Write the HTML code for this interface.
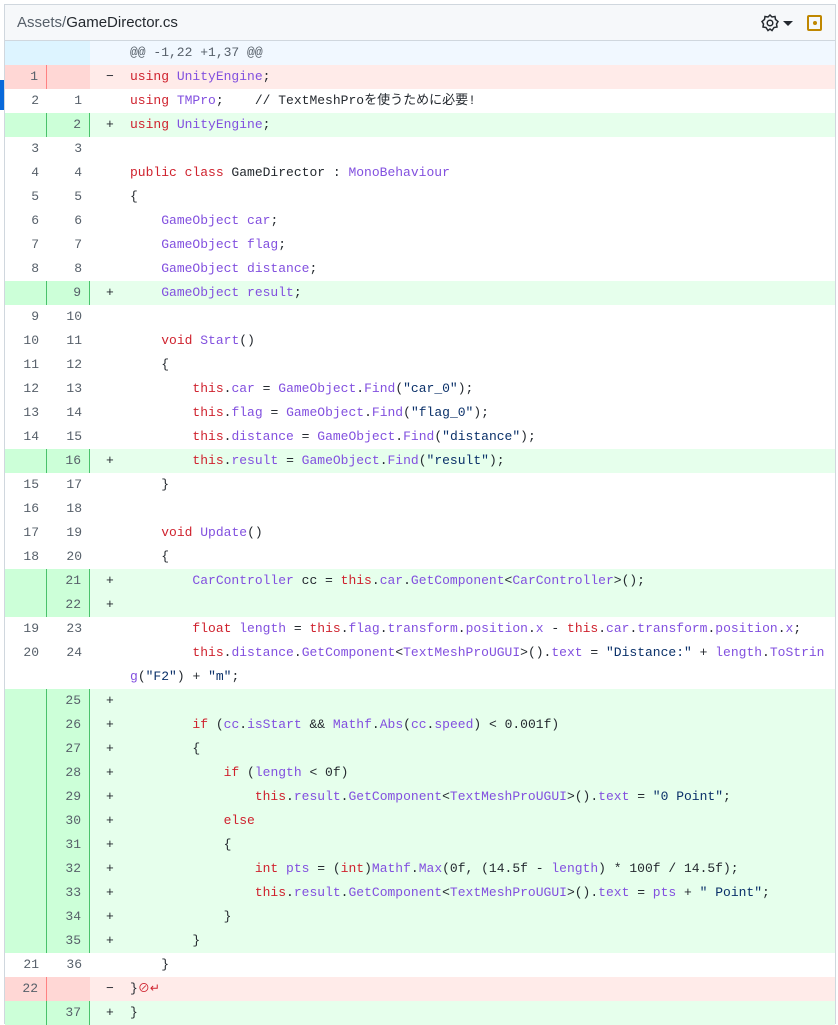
<!DOCTYPE html>
<html><head><meta charset="utf-8"><style>
*{margin:0;padding:0;box-sizing:border-box}
body{width:838px;height:1024px;background:#fff;position:relative;overflow:hidden;font-family:"Liberation Mono","Noto Sans CJK JP",monospace;color:#24292f}
#box{position:absolute;left:4px;top:4px;width:832px;height:1020px;border:1px solid #d0d7de;border-bottom:none}
#hdr{height:36px;background:#f6f8fa;border-bottom:1px solid #d0d7de;font-family:"Liberation Sans",sans-serif;font-size:15px;line-height:35px;padding-left:12px;color:#24292f;position:relative}
#hdr .g{color:#57606a}
.r{display:flex;height:24px;font-size:13px;line-height:24px;white-space:pre}
.r.w{height:48px}
.n{width:42px;text-align:right;padding-right:8px;color:#57606a;flex:none}
.m{width:43px;text-align:right;padding-right:8px;color:#57606a;flex:none}
.c{flex:1;padding-left:16px}
.sg{display:inline-block;width:24px}
.h .n,.h .m{background:#ddf4ff}.h .c{background:#f1f8ff;color:#57606a}
.d .n,.d .m{background:#ffd7d5}.d .c{background:#ffebe9}
.a .n,.a .m{background:#ccffd8}.a .c{background:#e6ffec}
.a .n{border-right:1px solid #4ac26b}.a .m{border-right:1px solid #4ac26b}
.d .n{border-right:1px solid #ff8182}
.k{color:#cf222e}.p{color:#8250df}.s{color:#0a3069}
</style></head><body>
<div style="position:absolute;left:0;top:80px;width:4px;height:30px;background:#0969da"></div>
<div id="box">
<div id="hdr"><span class="g">Assets/</span>GameDirector.cs
<svg style="position:absolute;left:755px;top:8px" width="20" height="20" viewBox="0 0 20 20"><path d="M10 2 L12 4 L15 3.5 L15.5 6.5 L18 8.5 L16.5 11 L17 14 L14 14.5 L12 17.5 L10 16 L8 17.5 L6 14.5 L3 14 L3.5 11 L2 8.5 L4.5 6.5 L5 3.5 L8 4 Z" fill="none" stroke="#24292f" stroke-width="1.5"/><circle cx="10" cy="10" r="2.8" fill="none" stroke="#24292f" stroke-width="1.5"/></svg>
<svg style="position:absolute;left:778px;top:16px" width="10" height="6"><path d="M0 0 L10 0 L5 5Z" fill="#24292f"/></svg>
<div style="position:absolute;left:802px;top:10px;width:15px;height:16px;border:2px solid #bf8700;border-radius:2px"><div style="position:absolute;left:3.5px;top:4px;width:4px;height:4px;border-radius:2px;background:#bf8700"></div></div>
</div>
<div class="r h"><div class="n"></div><div class="m"></div><div class="c"><span class="sg"></span>@@ -1,22 +1,37 @@</div></div>
<div class="r d"><div class="n">1</div><div class="m"></div><div class="c"><span class="sg">−</span><span class="k">using</span> <span class="p">UnityEngine</span>;</div></div>
<div class="r"><div class="n">2</div><div class="m">1</div><div class="c"><span class="sg"></span><span class="k">using</span> <span class="p">TMPro</span>;    // TextMeshProを使うために必要!</div></div>
<div class="r a"><div class="n"></div><div class="m">2</div><div class="c"><span class="sg">+</span><span class="k">using</span> <span class="p">UnityEngine</span>;</div></div>
<div class="r"><div class="n">3</div><div class="m">3</div><div class="c"></div></div>
<div class="r"><div class="n">4</div><div class="m">4</div><div class="c"><span class="sg"></span><span class="k">public class</span> GameDirector : <span class="p">MonoBehaviour</span></div></div>
<div class="r"><div class="n">5</div><div class="m">5</div><div class="c"><span class="sg"></span>{</div></div>
<div class="r"><div class="n">6</div><div class="m">6</div><div class="c"><span class="sg"></span>    <span class="p">GameObject car</span>;</div></div>
<div class="r"><div class="n">7</div><div class="m">7</div><div class="c"><span class="sg"></span>    <span class="p">GameObject flag</span>;</div></div>
<div class="r"><div class="n">8</div><div class="m">8</div><div class="c"><span class="sg"></span>    <span class="p">GameObject distance</span>;</div></div>
<div class="r a"><div class="n"></div><div class="m">9</div><div class="c"><span class="sg">+</span>    <span class="p">GameObject result</span>;</div></div>
<div class="r"><div class="n">9</div><div class="m">10</div><div class="c"></div></div>
<div class="r"><div class="n">10</div><div class="m">11</div><div class="c"><span class="sg"></span>    <span class="k">void</span> <span class="p">Start</span>()</div></div>
<div class="r"><div class="n">11</div><div class="m">12</div><div class="c"><span class="sg"></span>    {</div></div>
<div class="r"><div class="n">12</div><div class="m">13</div><div class="c"><span class="sg"></span>        <span class="k">this</span>.<span class="p">car</span> = <span class="p">GameObject</span>.<span class="p">Find</span>(<span class="s">"car_0"</span>);</div></div>
<div class="r"><div class="n">13</div><div class="m">14</div><div class="c"><span class="sg"></span>        <span class="k">this</span>.<span class="p">flag</span> = <span class="p">GameObject</span>.<span class="p">Find</span>(<span class="s">"flag_0"</span>);</div></div>
<div class="r"><div class="n">14</div><div class="m">15</div><div class="c"><span class="sg"></span>        <span class="k">this</span>.<span class="p">distance</span> = <span class="p">GameObject</span>.<span class="p">Find</span>(<span class="s">"distance"</span>);</div></div>
<div class="r a"><div class="n"></div><div class="m">16</div><div class="c"><span class="sg">+</span>        <span class="k">this</span>.<span class="p">result</span> = <span class="p">GameObject</span>.<span class="p">Find</span>(<span class="s">"result"</span>);</div></div>
<div class="r"><div class="n">15</div><div class="m">17</div><div class="c"><span class="sg"></span>    }</div></div>
<div class="r"><div class="n">16</div><div class="m">18</div><div class="c"></div></div>
<div class="r"><div class="n">17</div><div class="m">19</div><div class="c"><span class="sg"></span>    <span class="k">void</span> <span class="p">Update</span>()</div></div>
<div class="r"><div class="n">18</div><div class="m">20</div><div class="c"><span class="sg"></span>    {</div></div>
<div class="r a"><div class="n"></div><div class="m">21</div><div class="c"><span class="sg">+</span>        <span class="p">CarController</span> cc = <span class="k">this</span>.<span class="p">car</span>.<span class="p">GetComponent</span>&lt;<span class="p">CarController</span>&gt;();</div></div>
<div class="r a"><div class="n"></div><div class="m">22</div><div class="c"><span class="sg">+</span></div></div>
<div class="r"><div class="n">19</div><div class="m">23</div><div class="c"><span class="sg"></span>        <span class="k">float</span> <span class="p">length</span> = <span class="k">this</span>.<span class="p">flag</span>.<span class="p">transform</span>.<span class="p">position</span>.<span class="p">x</span> - <span class="k">this</span>.<span class="p">car</span>.<span class="p">transform</span>.<span class="p">position</span>.<span class="p">x</span>;</div></div>
<div class="r w"><div class="n">20</div><div class="m">24</div><div class="c"><span class="sg"></span>        <span class="k">this</span>.<span class="p">distance</span>.<span class="p">GetComponent</span>&lt;<span class="p">TextMeshProUGUI</span>&gt;().<span class="p">text</span> = <span class="s">"Distance:"</span> + <span class="p">length</span>.<span class="p">ToStrin</span>
<span class="sg"></span><span class="p">g</span>(<span class="s">"F2"</span>) + <span class="s">"m"</span>;</div></div>
<div class="r a"><div class="n"></div><div class="m">25</div><div class="c"><span class="sg">+</span></div></div>
<div class="r a"><div class="n"></div><div class="m">26</div><div class="c"><span class="sg">+</span>        <span class="k">if</span> (<span class="p">cc</span>.<span class="p">isStart</span> &amp;&amp; <span class="p">Mathf</span>.<span class="p">Abs</span>(<span class="p">cc</span>.<span class="p">speed</span>) &lt; 0.001f)</div></div>
<div class="r a"><div class="n"></div><div class="m">27</div><div class="c"><span class="sg">+</span>        {</div></div>
<div class="r a"><div class="n"></div><div class="m">28</div><div class="c"><span class="sg">+</span>            <span class="k">if</span> (<span class="p">length</span> &lt; 0f)</div></div>
<div class="r a"><div class="n"></div><div class="m">29</div><div class="c"><span class="sg">+</span>                <span class="k">this</span>.<span class="p">result</span>.<span class="p">GetComponent</span>&lt;<span class="p">TextMeshProUGUI</span>&gt;().<span class="p">text</span> = <span class="s">"0 Point"</span>;</div></div>
<div class="r a"><div class="n"></div><div class="m">30</div><div class="c"><span class="sg">+</span>            <span class="k">else</span></div></div>
<div class="r a"><div class="n"></div><div class="m">31</div><div class="c"><span class="sg">+</span>            {</div></div>
<div class="r a"><div class="n"></div><div class="m">32</div><div class="c"><span class="sg">+</span>                <span class="k">int</span> <span class="p">pts</span> = (<span class="k">int</span>)<span class="p">Mathf</span>.<span class="p">Max</span>(0f, (14.5f - <span class="p">length</span>) * 100f / 14.5f);</div></div>
<div class="r a"><div class="n"></div><div class="m">33</div><div class="c"><span class="sg">+</span>                <span class="k">this</span>.<span class="p">result</span>.<span class="p">GetComponent</span>&lt;<span class="p">TextMeshProUGUI</span>&gt;().<span class="p">text</span> = <span class="p">pts</span> + <span class="s">" Point"</span>;</div></div>
<div class="r a"><div class="n"></div><div class="m">34</div><div class="c"><span class="sg">+</span>            }</div></div>
<div class="r a"><div class="n"></div><div class="m">35</div><div class="c"><span class="sg">+</span>        }</div></div>
<div class="r"><div class="n">21</div><div class="m">36</div><div class="c"><span class="sg"></span>    }</div></div>
<div class="r d"><div class="n">22</div><div class="m"></div><div class="c"><span class="sg">−</span>}<span class="k" style="font-size:12px">⊘↵</span></div></div>
<div class="r a"><div class="n"></div><div class="m">37</div><div class="c"><span class="sg">+</span>}</div></div>
</div>
</body></html>
